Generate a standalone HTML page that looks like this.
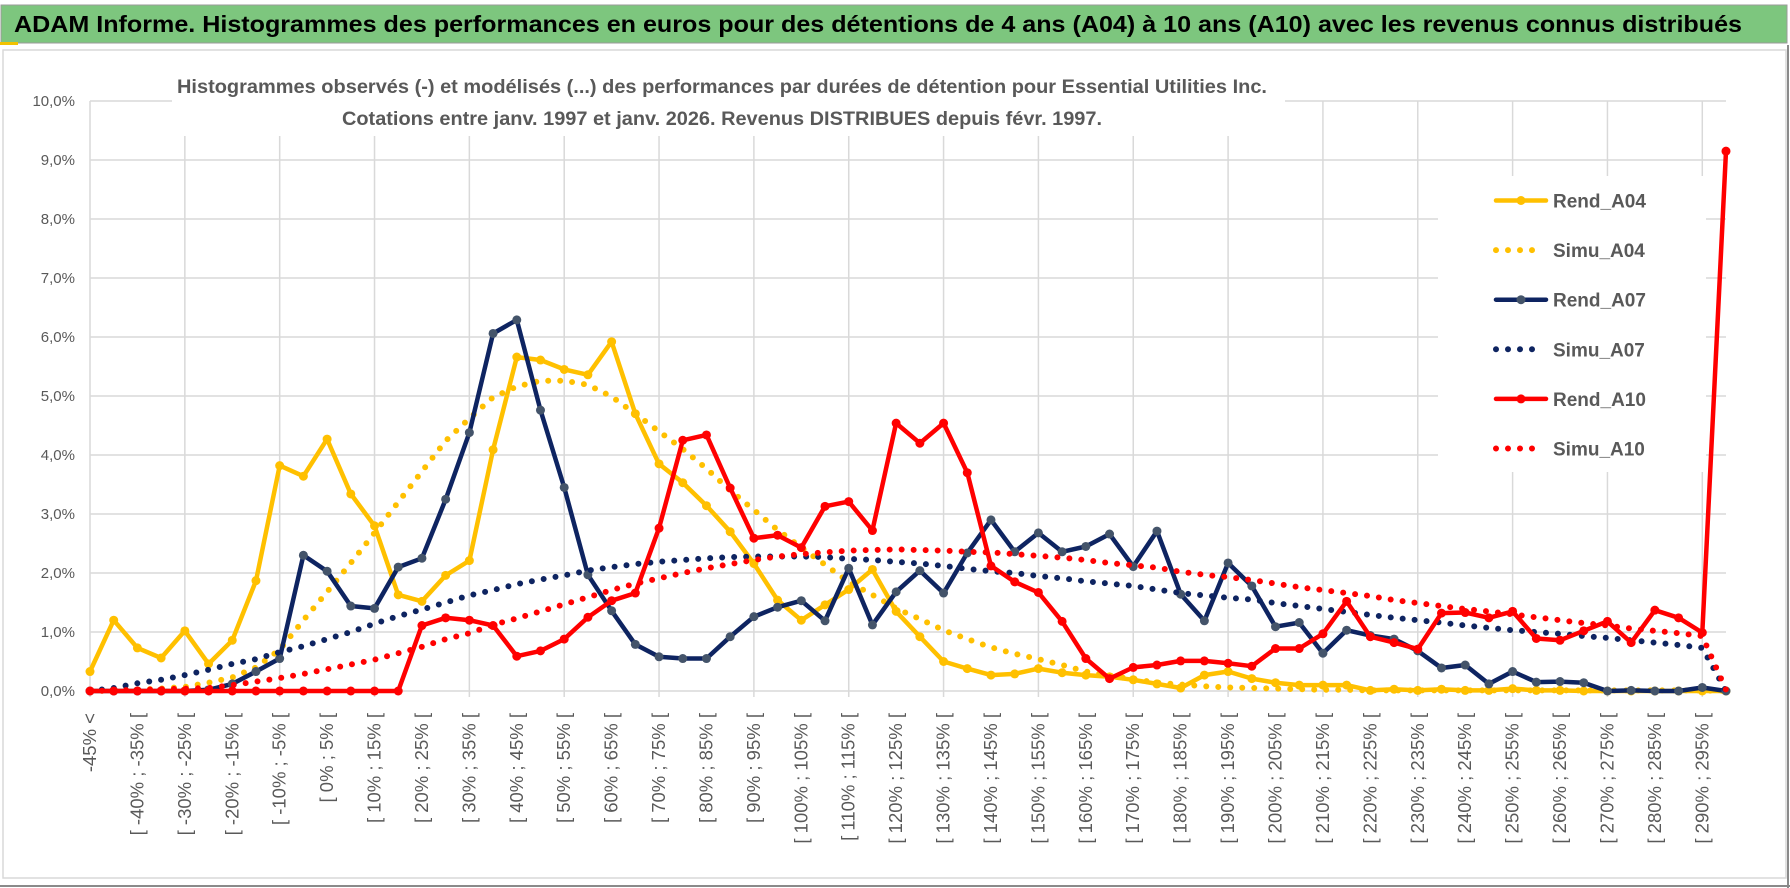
<!DOCTYPE html>
<html><head><meta charset="utf-8"><style>
html,body{margin:0;padding:0;background:#fff;}
svg{display:block;font-family:"Liberation Sans",Arial,sans-serif;}
</style></head><body>
<svg id="chart" width="1790" height="888" viewBox="0 0 1790 888" xmlns="http://www.w3.org/2000/svg">
  <rect x="0" y="0" width="1790" height="888" fill="#fff"/>
  <rect x="1" y="5" width="1786" height="38" fill="#7dc67e" stroke="#9a9a9a" stroke-width="1"/>
  <rect x="0" y="42" width="18" height="3" fill="#f2c200"/>
  <text x="14" y="32" font-size="23" font-weight="bold" fill="#000" textLength="1728" lengthAdjust="spacingAndGlyphs">ADAM Informe. Histogrammes des performances en euros pour des détentions de 4 ans (A04) à 10 ans (A10) avec les revenus connus distribués</text>
  <rect x="3" y="50" width="1783" height="828" fill="none" stroke="#d9d9d9" stroke-width="1.5"/>
  <line x1="0" y1="886" x2="1790" y2="886" stroke="#8a8a8a" stroke-width="2"/>
  <line x1="1788" y1="45" x2="1788" y2="888" stroke="#8a8a8a" stroke-width="2"/>
  <g id="grid"></g>
  <g id="yaxis"></g>
  <g id="xaxis"></g>
  <rect x="172" y="88" width="1113" height="48" fill="#fff"/>
  <text x="177" y="93" font-size="19" font-weight="bold" fill="#595959" textLength="1090" lengthAdjust="spacingAndGlyphs">Histogrammes observés (-) et modélisés (...) des performances par durées de détention pour Essential Utilities Inc.</text>
  <text x="342" y="125" font-size="19" font-weight="bold" fill="#595959" textLength="760" lengthAdjust="spacingAndGlyphs">Cotations entre janv. 1997 et janv. 2026. Revenus DISTRIBUES depuis févr. 1997.</text>
  <rect x="1438" y="176" width="268" height="296" fill="#fff"/>
  <g id="series"></g>
  <g id="legend"></g>
</svg>
<script>
const categories = (function(){ const c=["-45% <"]; for(let k=1;k<70;k++){ c.push("[ "+(-50+5*k)+"% ; "+(-45+5*k)+"% ["); } return c; })();
const yTicks = [0,1,2,3,4,5,6,7,8,9,10];
const yTickLabels = ["0,0%","1,0%","2,0%","3,0%","4,0%","5,0%","6,0%","7,0%","8,0%","9,0%","10,0%"];
const rendA04 = [0.33,1.2,0.73,0.56,1.02,0.46,0.86,1.87,3.82,3.64,4.27,3.34,2.8,1.63,1.52,1.96,2.21,4.09,5.66,5.61,5.45,5.36,5.92,4.7,3.85,3.53,3.14,2.7,2.16,1.54,1.2,1.46,1.72,2.06,1.35,0.92,0.5,0.38,0.27,0.29,0.38,0.31,0.27,0.24,0.19,0.12,0.05,0.27,0.33,0.21,0.14,0.1,0.1,0.1,0.01,0.03,0.01,0.03,0.01,0.01,0.04,0.01,0.01,0,0,0,0,0,0,0];
const simuA04 = [0,0.01,0.02,0.04,0.07,0.14,0.23,0.4,0.7,1.2,1.68,2.17,2.68,3.2,3.72,4.24,4.62,4.98,5.16,5.26,5.26,5.19,4.99,4.7,4.4,4.1,3.77,3.4,3.07,2.73,2.43,2.14,1.85,1.63,1.4,1.22,1.03,0.88,0.74,0.63,0.54,0.44,0.33,0.26,0.2,0.14,0.11,0.08,0.06,0.05,0.04,0.03,0.02,0.02,0.01,0.01,0.01,0.01,0.01,0.01,0.01,0.01,0.01,0.01,0.01,0.01,0.01,0.01,0.01,0];
const rendA07 = [0,0,0,0,0,0.02,0.12,0.33,0.55,2.3,2.03,1.44,1.4,2.1,2.25,3.25,4.38,6.06,6.29,4.76,3.45,1.97,1.36,0.79,0.58,0.55,0.55,0.92,1.26,1.42,1.53,1.19,2.08,1.12,1.68,2.04,1.66,2.34,2.9,2.36,2.68,2.36,2.45,2.66,2.11,2.71,1.64,1.19,2.17,1.78,1.09,1.16,0.64,1.03,0.94,0.88,0.68,0.39,0.44,0.12,0.33,0.15,0.16,0.14,0,0.01,0,0,0.06,0];
const simuA07 = [0,0.05,0.13,0.19,0.27,0.36,0.46,0.54,0.66,0.76,0.88,1.0,1.14,1.27,1.38,1.5,1.62,1.71,1.81,1.89,1.96,2.04,2.1,2.15,2.19,2.22,2.25,2.27,2.28,2.28,2.28,2.27,2.24,2.22,2.19,2.16,2.12,2.07,2.03,2.0,1.95,1.91,1.86,1.82,1.78,1.72,1.66,1.62,1.58,1.55,1.49,1.44,1.39,1.34,1.29,1.24,1.2,1.16,1.11,1.07,1.03,1.0,0.97,0.93,0.9,0.86,0.82,0.78,0.73,0];
const rendA10 = [0,0,0,0,0,0,0,0,0,0,0,0,0,0,1.11,1.24,1.2,1.11,0.59,0.68,0.88,1.25,1.53,1.66,2.76,4.25,4.34,3.44,2.59,2.64,2.43,3.13,3.21,2.72,4.54,4.2,4.54,3.7,2.12,1.85,1.67,1.18,0.55,0.21,0.4,0.44,0.51,0.51,0.47,0.42,0.72,0.72,0.97,1.52,0.92,0.82,0.71,1.32,1.33,1.24,1.35,0.89,0.86,1.02,1.18,0.82,1.37,1.24,0.99,9.15];
const simuA10 = [0,0.01,0.02,0.03,0.04,0.05,0.1,0.16,0.22,0.29,0.37,0.45,0.53,0.64,0.75,0.88,0.98,1.12,1.23,1.35,1.47,1.59,1.71,1.82,1.91,2.0,2.08,2.15,2.22,2.28,2.32,2.35,2.38,2.39,2.4,2.39,2.38,2.36,2.35,2.32,2.29,2.26,2.22,2.17,2.13,2.09,2.02,1.97,1.93,1.88,1.82,1.76,1.71,1.66,1.61,1.54,1.49,1.44,1.39,1.35,1.3,1.25,1.2,1.15,1.11,1.06,1.02,0.98,0.93,0.02];
const seriesNames = ["Rend_A04","Simu_A04","Rend_A07","Simu_A07","Rend_A10","Simu_A10"];

const NS="http://www.w3.org/2000/svg";
const X0=90, X1=1726, Y0=691, PX=59;
function xPos(i){ return X0 + i*(X1-X0)/(categories.length-1); }
function yPos(v){ return Y0 - v*PX; }
function mk(tag, parent){ const e=document.createElementNS(NS,tag); parent.appendChild(e); return e; }

const grid=document.getElementById('grid');
yTicks.forEach(function(t){
  const l=mk('line',grid);
  
  
  l.setAttribute('x1',X0); l.setAttribute('x2',X1);
  l.setAttribute('y1',yPos(t)); l.setAttribute('y2',yPos(t));
  l.setAttribute('stroke','#d9d9d9'); l.setAttribute('stroke-width','1.5');
});
for(let i=0;i<categories.length;i+=4){
  const l=mk('line',grid);
  
  
  l.setAttribute('x1',xPos(i)); l.setAttribute('x2',xPos(i));
  l.setAttribute('y1',yPos(10)); l.setAttribute('y2',Y0+6);
  l.setAttribute('stroke','#d9d9d9'); l.setAttribute('stroke-width','1.5');
}
const ya=document.getElementById('yaxis');
yTicks.forEach(function(t,k){
  const tx=mk('text',ya);
  
  
  tx.setAttribute('x',75); tx.setAttribute('y',yPos(t)+5);
  tx.setAttribute('text-anchor','end'); tx.setAttribute('font-size','15'); tx.setAttribute('fill','#595959');
  tx.textContent=yTickLabels[k];
});
const xa=document.getElementById('xaxis');
categories.forEach(function(c,i){
  if(i%2!==0) return;
  const tx=mk('text',xa);
  
  
  const x=xPos(i), y=713;
  tx.setAttribute('transform','translate('+x+','+y+') rotate(-90)');
  tx.setAttribute('x',0); tx.setAttribute('y',6);
  tx.setAttribute('text-anchor','end'); tx.setAttribute('font-size','18.5'); tx.setAttribute('fill','#595959');
  tx.textContent=c;
});

const styles=[
  {data:rendA04,color:'#ffc000',marker:'#ffc000',dotted:false,name:'rend-a04'},
  {data:simuA04,color:'#ffc000',dotted:true,name:'simu-a04'},
  {data:rendA07,color:'#0e2461',marker:'#44546a',dotted:false,name:'rend-a07'},
  {data:simuA07,color:'#0e2461',dotted:true,name:'simu-a07'},
  {data:rendA10,color:'#ff0000',marker:'#ff0000',dotted:false,name:'rend-a10'},
  {data:simuA10,color:'#ff0000',dotted:true,name:'simu-a10'}
];
const sg=document.getElementById('series');
styles.forEach(function(s){
  const g=mk('g',sg);
  
  
  const p=mk('polyline',g);
  
  
  p.setAttribute('points',s.data.map(function(v,i){return xPos(i).toFixed(1)+','+yPos(v).toFixed(1);}).join(' '));
  p.setAttribute('fill','none'); p.setAttribute('stroke',s.color);
  p.setAttribute('stroke-linejoin','round'); p.setAttribute('stroke-linecap','round');
  if(s.dotted){ p.setAttribute('stroke-width','6'); p.setAttribute('stroke-dasharray','0 12'); }
  else { p.setAttribute('stroke-width','4.5'); }
  if(!s.dotted){
    s.data.forEach(function(v,i){
      const c=mk('circle',g);
      
      
      c.setAttribute('cx',xPos(i)); c.setAttribute('cy',yPos(v)); c.setAttribute('r','4.5');
      c.setAttribute('fill',s.marker);
    });
  }
});
const lg=document.getElementById('legend');
styles.forEach(function(s,k){
  const y=200.5+k*49.6;
  const g=mk('g',lg);
  
  
  const l=mk('line',g);
  
  
  l.setAttribute('x1',1496); l.setAttribute('x2',s.dotted?1542:1546);
  l.setAttribute('y1',y); l.setAttribute('y2',y);
  l.setAttribute('stroke',s.color); l.setAttribute('stroke-linecap','round');
  if(s.dotted){ l.setAttribute('stroke-width','6'); l.setAttribute('stroke-dasharray','0 12'); }
  else { l.setAttribute('stroke-width','4.5');
    const c=mk('circle',g);
    
    
    c.setAttribute('cx',1521); c.setAttribute('cy',y); c.setAttribute('r','4.5'); c.setAttribute('fill',s.marker);
  }
  const t=mk('text',g);
  
  
  t.setAttribute('x',1553); t.setAttribute('y',y+7);
  t.setAttribute('font-size','19'); t.setAttribute('font-weight','bold'); t.setAttribute('fill','#595959');
  t.textContent=seriesNames[k];
});
</script>
</body></html>
